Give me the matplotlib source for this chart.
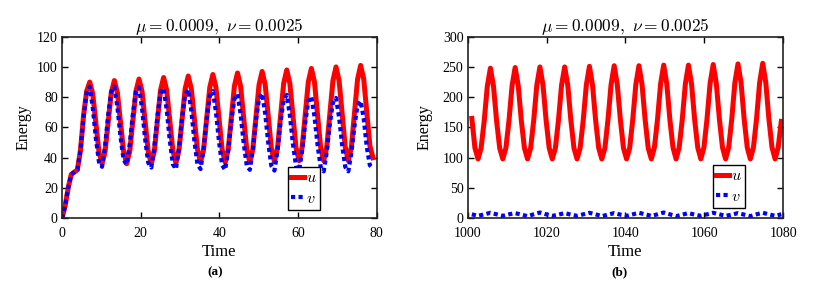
import numpy as np
import matplotlib
matplotlib.use('Agg')
import matplotlib.pyplot as plt

plt.rcParams['font.family'] = ['Liberation Serif', 'DejaVu Serif']
plt.rcParams['mathtext.fontset'] = 'cm'

## Data ####################################################################
# (a) t = 0..80, sampled every dt_a time units
dt_a = 0.783
u_a = [0, 8, 20, 29, 30.5, 32, 45, 68, 84,
       90, 82.1, 63, 43.9, 36, 44.1, 63.5, 82.9,
       91, 82.9, 63.5, 44.1, 36, 44.2, 64, 83.8,
       92, 83.8, 64, 44.2, 36, 44.4, 64.5, 84.6,
       93, 84.7, 64.8, 44.8, 36.5, 44.9, 65.3, 85.6,
       94, 85.6, 65.5, 45.4, 37, 45.5, 66, 86.5,
       95, 86.5, 66, 45.5, 37, 45.6, 66.5, 87.4,
       96, 87.4, 66.5, 45.6, 37, 45.8, 67, 88.2,
       97, 88.3, 67.3, 46.2, 37.5, 46.4, 67.8, 89.1,
       98, 89.2, 68, 46.8, 38, 46.9, 68.5, 90.1,
       99, 90.1, 68.5, 46.9, 38, 47.1, 69, 90.9,
       100, 90.9, 69, 47.1, 38, 47.2, 69.5, 91.8,
       101, 92, 70, 48, 40]
v_a = [0, 8, 20, 29, 30.5, 32, 45, 67, 83,
       87, 73.0, 52.8, 37.2, 34, 48.0, 68.2, 83.8,
       87, 73.4, 53.8, 38.6, 35.5, 49.0, 68.4, 83.4,
       86.5, 72.5, 52.3, 36.7, 33.5, 47.4, 67.4, 82.9,
       86, 71.8, 51.5, 35.7, 32.5, 46.4, 66.4, 81.9,
       85, 71.1, 51.1, 35.6, 32.5, 46.1, 65.8, 80.9,
       84, 70.2, 50.5, 35.1, 32, 45.2, 64.3, 79.0,
       82, 68.8, 49.7, 35.0, 32, 45.4, 64.6, 79.5,
       82.5, 69.0, 49.6, 34.6, 31.5, 44.7, 63.8, 78.5,
       81.5, 68.3, 49.2, 34.5, 31.5, 44.5, 63.1, 77.6,
       80.5, 67.4, 48.6, 34.0, 31, 43.9, 62.3, 76.6,
       79.5, 66.7, 48.2, 33.9, 31, 43.3, 61.0, 74.7,
       77.5, 66, 47, 35, 33]

# (b) t = 1001..1080, sampled every dt_b time units (v every 2nd sample)
t0_b = 1001.04
dt_b = 0.785
u_b = [165, 116, 98, 116, 161, 218,
       248, 218, 161, 116, 98, 116, 161, 219,
       249, 219, 161, 116, 98, 116, 162, 220,
       250, 220, 162, 116, 98, 116, 162, 220,
       250, 220, 162, 116, 98, 116, 162, 220,
       251, 220, 162, 116, 98, 116, 163, 221,
       252, 221, 163, 116, 98, 116, 163, 221,
       252, 221, 163, 116, 98, 117, 163, 222,
       253, 222, 163, 117, 98, 117, 163, 222,
       253, 222, 163, 117, 98, 117, 164, 223,
       254, 223, 164, 117, 98, 117, 164, 224,
       255, 224, 164, 117, 98, 117, 164, 224,
       256, 224, 164, 117, 98, 117, 160]
v_b = [6.5, 4, 6.5,
       9, 6.5, 4, 6.5,
       8.5, 6, 3.5, 6.5,
       9.5, 6.5, 4, 6,
       8.5, 6, 4, 6.5,
       9, 6.5, 3.5, 6,
       8.5, 6, 4, 6.5,
       9, 6.5, 4, 6.5,
       9.5, 6.5, 3.5, 6,
       8.5, 6, 4, 6.5,
       9, 6.5, 4, 6,
       8.5, 6, 3.5, 6.5,
       9, 6.5, 4, 6.5]

title_txt = r'$\mu = 0.0009,\ \nu = 0.0025$'
## Data over ###############################################################

t_a = np.arange(len(u_a))*dt_a
t_ub = t0_b + np.arange(len(u_b))*dt_b
t_vb = t0_b + np.arange(len(v_b))*2*dt_b

fig = plt.figure(figsize=(8.17, 2.82), dpi=100)
ax1 = fig.add_axes([0.0759, 0.226, 0.385, 0.644])
ax2 = fig.add_axes([0.5725, 0.226, 0.386, 0.644])

def style(ax, xlim, ylim, xt, yt, ylab_x):
    ax.set_xlim(xlim)
    ax.set_ylim(ylim)
    ax.set_xticks(xt)
    ax.set_yticks(yt)
    ax.tick_params(direction='in', top=True, right=True, length=4, width=1,
                   labelsize=10, colors='black')
    ax.tick_params(axis='x', pad=6.5)
    ax.tick_params(axis='y', pad=3)
    for s in ax.spines.values():
        s.set_linewidth(1.2)
        s.set_color('#222222')
    ax.set_xlabel('Time', fontsize=12)
    ax.set_ylabel('Energy', fontsize=11.5)
    ax.xaxis.set_label_coords(0.5, -0.14)
    ax.yaxis.set_label_coords(ylab_x, 0.5)
    ax.set_title(title_txt, fontsize=12.5, pad=4)

def add_legend(ax, x0, y1):
    ax.legend(loc='upper left', bbox_to_anchor=(x0/817, 1-y1/282),
              bbox_transform=fig.transFigure, fontsize=11.5, handlelength=0.8,
              handletextpad=0.15, borderpad=0.2, borderaxespad=0, labelspacing=0.3,
              fancybox=False, framealpha=1, edgecolor='black')

# (a)
ax1.plot(t_a, u_a, '-', color='#ff0000', lw=3.6, label='$u$')
ax1.plot(t_a, v_a, color='#0000ff', lw=3, linestyle=(0, (1, 0.8)), label='$v$')
style(ax1, (0, 80), (0, 120), np.arange(0, 81, 20), np.arange(0, 121, 20), -0.096)
add_legend(ax1, 288, 167)

# (b)
ax2.plot(t_ub, u_b, '-', color='#ff0000', lw=3.6, label='$u$')
ax2.plot(t_vb, v_b, color='#0000ff', lw=3, linestyle=(0, (1, 0.8)), label='$v$')
style(ax2, (1000, 1080), (0, 300), np.arange(1000, 1081, 20), np.arange(0, 301, 50), -0.113)
add_legend(ax2, 713, 165)

fig.text(215/817, 0.035, '(a)', ha='center', va='center', fontsize=9.5, fontweight='bold')
fig.text(620/817, 0.035, '(b)', ha='center', va='center', fontsize=9.5, fontweight='bold')

fig.savefig('out.png', dpi=100)
